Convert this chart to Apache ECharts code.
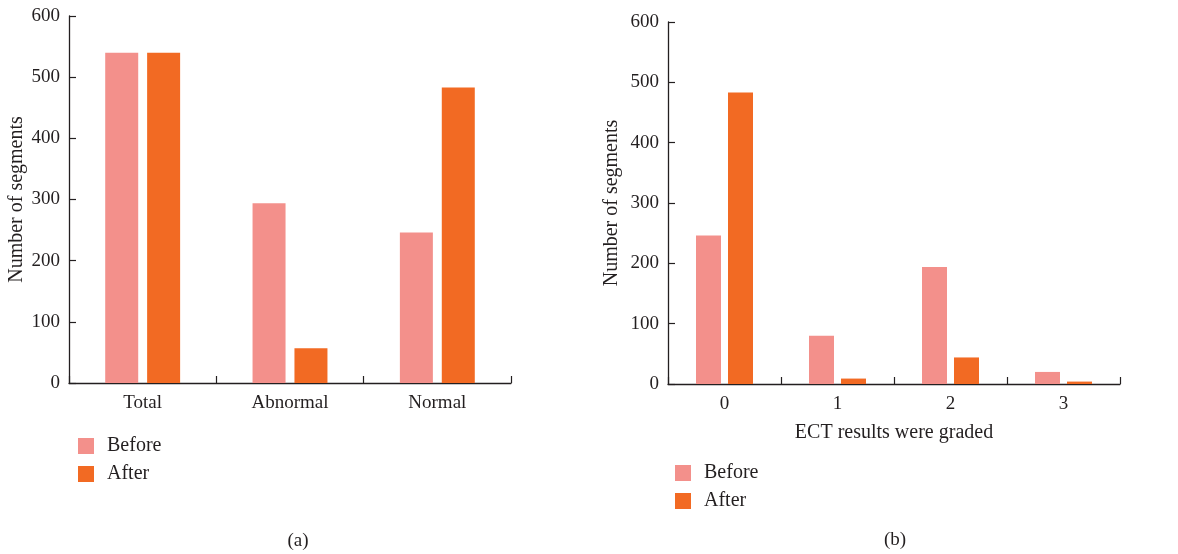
<!DOCTYPE html>
<html>
<head>
<meta charset="utf-8">
<script src="https://cdn.jsdelivr.net/npm/echarts@6/dist/echarts.min.js"></script>
<style>
  html, body { margin: 0; padding: 0; background: #fff; }
  #chart { width: 1178px; height: 554px; }
</style>
</head>
<body>
<div id="chart"></div>
<script>
// panel (a)
const categoriesA = ['Total', 'Abnormal', 'Normal']
const beforeA = [540, 294, 246]
const afterA = [540, 57, 483]

// panel (b)
const categoriesB = ['0', '1', '2', '3']
const beforeB = [246, 80, 194, 20]
const afterB = [483, 9, 44, 4]

const yTicks = { min: 0, max: 600, interval: 100 }

const FONT = 'Liberation Serif'
const TEXT = '#231f20'
const BEFORE = '#f3908b'
const AFTER = '#f26a23'

const chart = echarts.init(document.getElementById('chart'))

const xAxisBase = (idx, data) => ({
  type: 'category',
  gridIndex: idx,
  data: data,
  axisLine: { lineStyle: { color: TEXT, width: 1.3 } },
  axisTick: { show: true, inside: true, length: 7, interval: 0, lineStyle: { color: TEXT, width: 1.2 } },
  axisLabel: { color: TEXT, fontFamily: FONT, fontSize: 19, margin: 11 },
})

const yAxisBase = (idx, gap) => ({
  type: 'value',
  gridIndex: idx,
  ...yTicks,
  name: 'Number of segments',
  nameLocation: 'middle',
  nameGap: gap,
  nameTextStyle: { color: TEXT, fontFamily: FONT, fontSize: 20 },
  axisLine: { show: true, lineStyle: { color: TEXT, width: 1.3 } },
  axisTick: { show: true, inside: true, length: 7, lineStyle: { color: TEXT, width: 1.2 } },
  axisLabel: { color: TEXT, fontFamily: FONT, fontSize: 19, margin: 9 },
  splitLine: { show: false },
})

const legendBase = (left, top) => ({
  left: left,
  top: top,
  padding: 0,
  orient: 'vertical',
  icon: 'rect',
  itemWidth: 16,
  itemHeight: 16,
  itemGap: 8,
  data: ['Before', 'After'],
  selectedMode: false,
  textStyle: { color: TEXT, fontFamily: FONT, fontSize: 20, padding: [0, 0, 0, 8] },
})

chart.setOption({
  animation: false,
  title: [
    { text: '(a)', left: 293, top: 527, textAlign: 'center',
      textStyle: { color: TEXT, fontFamily: FONT, fontSize: 19, fontWeight: 'normal' } },
    { text: '(b)', left: 890, top: 526, textAlign: 'center',
      textStyle: { color: TEXT, fontFamily: FONT, fontSize: 19, fontWeight: 'normal' } },
  ],
  legend: [legendBase(78, 436), legendBase(675, 463)],
  grid: [
    { left: 69, top: 16, right: 667, bottom: 171 },
    { left: 668, top: 22, right: 58, bottom: 170 },
  ],
  xAxis: [
    xAxisBase(0, categoriesA),
    {
      ...xAxisBase(1, categoriesB),
      name: 'ECT results were graded',
      nameLocation: 'middle',
      nameGap: 39,
      nameTextStyle: { color: TEXT, fontFamily: FONT, fontSize: 20 },
    },
  ],
  yAxis: [yAxisBase(0, 42), yAxisBase(1, 46)],
  series: [
    { name: 'Before', type: 'bar', xAxisIndex: 0, yAxisIndex: 0, data: beforeA,
      barWidth: 33, barGap: '27%', itemStyle: { color: BEFORE } },
    { name: 'After', type: 'bar', xAxisIndex: 0, yAxisIndex: 0, data: afterA,
      barWidth: 33, barGap: '27%', itemStyle: { color: AFTER } },
    { name: 'Before', type: 'bar', xAxisIndex: 1, yAxisIndex: 1, data: beforeB,
      barWidth: 25, barGap: '28%', itemStyle: { color: BEFORE } },
    { name: 'After', type: 'bar', xAxisIndex: 1, yAxisIndex: 1, data: afterB,
      barWidth: 25, barGap: '28%', itemStyle: { color: AFTER } },
  ],
})

window.addEventListener('resize', () => chart.resize())
</script>
</body>
</html>
